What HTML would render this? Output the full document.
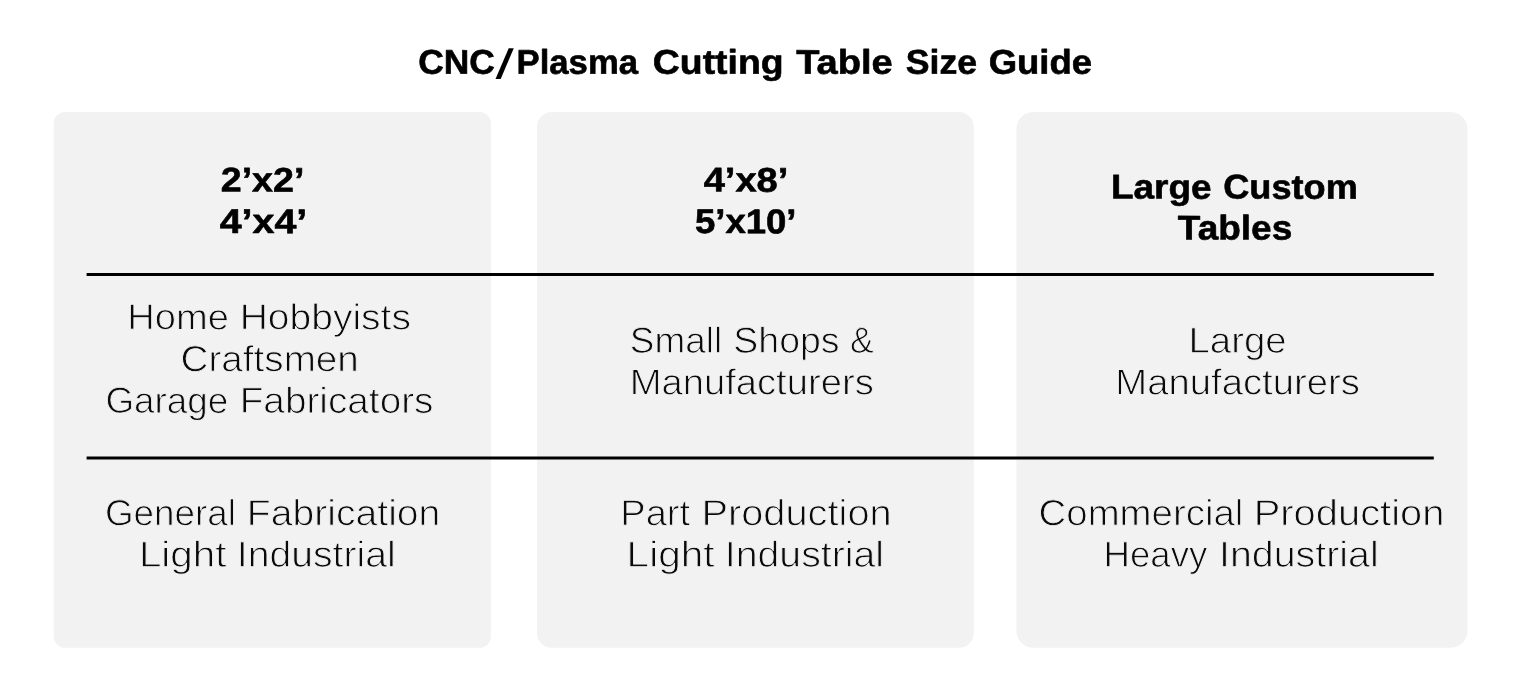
<!DOCTYPE html>
<html lang="en"><head><meta charset="utf-8"><title>CNC/Plasma Cutting Table Size Guide</title>
<style>
html,body{margin:0;padding:0;background:#fff;}
body{width:1536px;height:699px;overflow:hidden;}
svg{display:block;}
text{font-family:"Liberation Sans",Arial,Helvetica,sans-serif;fill:#000;text-rendering:geometricPrecision;}
.b{font-weight:bold;font-size:34.3px;stroke:#000;stroke-width:0.6px;stroke-linejoin:round;}
.s{font-weight:normal;font-size:34.3px;}
.n{font-weight:normal;font-size:36.4px;fill:#0a0a0a;stroke:#f2f2f2;stroke-width:0.9px;}
</style></head><body>
<svg width="1536" height="699" viewBox="0 0 1536 699">
<rect x="0" y="0" width="1536" height="699" fill="#ffffff"/>
<rect x="53.7" y="112" width="437.2" height="535.8" rx="11.5" ry="11.5" fill="#f2f2f2"/>
<rect x="537" y="112" width="436.8" height="535.8" rx="15" ry="15" fill="#f2f2f2"/>
<rect x="1016.4" y="112" width="451.1" height="535.8" rx="17" ry="17" fill="#f2f2f2"/>
<rect x="86.6" y="273" width="1347.2" height="3" fill="#000"/>
<rect x="86.6" y="456.5" width="1347.2" height="3" fill="#000"/>
<text class="b" transform="matrix(1.0310 0.0006 0 1.0000 418.28 73.70)">CNC</text>
<text class="s" transform="matrix(1.9200 0.0006 0 1.2231 495.50 78.40)">/</text>
<text class="b" transform="matrix(1.0121 0.0006 0 1.0000 516.48 73.70)">Plasma</text>
<text class="b" transform="matrix(1.0898 0.0006 0 1.0000 652.84 73.70)">Cutting</text>
<text class="b" transform="matrix(1.1102 0.0006 0 1.0000 796.13 73.70)">Table</text>
<text class="b" transform="matrix(1.0403 0.0006 0 1.0000 905.71 73.70)">Size</text>
<text class="b" transform="matrix(1.0647 0.0006 0 1.0000 988.65 73.70)">Guide</text>
<text class="b" transform="matrix(1.0961 0.0006 0 1.0000 220.73 191.60)">2’x2’</text>
<text class="b" transform="matrix(1.1493 0.0006 0 1.0000 219.64 233.10)">4’x4’</text>
<text class="b" transform="matrix(1.1108 0.0006 0 1.0000 703.63 191.60)">4’x8’</text>
<text class="b" transform="matrix(1.0650 0.0006 0 1.0000 694.95 233.10)">5’x10’</text>
<text class="b" transform="matrix(1.0768 0.0006 0 1.0000 1110.97 198.60)">Large</text>
<text class="b" transform="matrix(1.0536 0.0006 0 1.0000 1223.26 198.60)">Custom</text>
<text class="b" transform="matrix(1.0783 0.0006 0 1.0000 1177.82 239.40)">Tables</text>
<text class="n" transform="matrix(1.0481 0.0006 0 1.0000 127.13 329.35)">Home</text>
<text class="n" transform="matrix(1.0721 0.0006 0 1.0000 239.67 329.35)">Hobbyists</text>
<text class="n" transform="matrix(1.0623 0.0006 0 1.0000 180.56 371.25)">Craftsmen</text>
<text class="n" transform="matrix(1.0123 0.0006 0 1.0000 105.43 412.85)">Garage</text>
<text class="n" transform="matrix(1.0646 0.0006 0 1.0000 239.69 412.85)">Fabricators</text>
<text class="n" transform="matrix(1.0121 0.0006 0 1.0000 104.93 525.15)">General</text>
<text class="n" transform="matrix(1.0756 0.0006 0 1.0000 246.76 525.15)">Fabrication</text>
<text class="n" transform="matrix(1.1107 0.0006 0 1.0000 138.88 566.65)">Light</text>
<text class="n" transform="matrix(1.0764 0.0006 0 1.0000 236.79 566.65)">Industrial</text>
<text class="n" transform="matrix(1.0137 0.0006 0 1.0000 629.83 352.65)">Small</text>
<text class="n" transform="matrix(1.0301 0.0006 0 1.0000 733.31 352.65)">Shops</text>
<text class="n" transform="matrix(0.9774 0.0006 0 1.0000 849.98 352.65)">&amp;</text>
<text class="n" transform="matrix(1.0495 0.0006 0 1.0000 629.63 394.45)">Manufacturers</text>
<text class="n" transform="matrix(1.0450 0.0006 0 1.0000 620.34 525.25)">Part</text>
<text class="n" transform="matrix(1.0934 0.0006 0 1.0000 701.42 525.25)">Production</text>
<text class="n" transform="matrix(1.1146 0.0006 0 1.0000 626.57 566.65)">Light</text>
<text class="n" transform="matrix(1.0785 0.0006 0 1.0000 724.78 566.65)">Industrial</text>
<text class="n" transform="matrix(1.0558 0.0006 0 1.0000 1188.41 352.65)">Large</text>
<text class="n" transform="matrix(1.0516 0.0006 0 1.0000 1115.32 394.45)">Manufacturers</text>
<text class="n" transform="matrix(1.0546 0.0006 0 1.0000 1038.57 525.15)">Commercial</text>
<text class="n" transform="matrix(1.0963 0.0006 0 1.0000 1253.71 525.15)">Production</text>
<text class="n" transform="matrix(1.0064 0.0006 0 1.0000 1103.53 566.65)">Heavy</text>
<text class="n" transform="matrix(1.0806 0.0006 0 1.0000 1219.07 566.65)">Industrial</text>
</svg>
</body></html>
